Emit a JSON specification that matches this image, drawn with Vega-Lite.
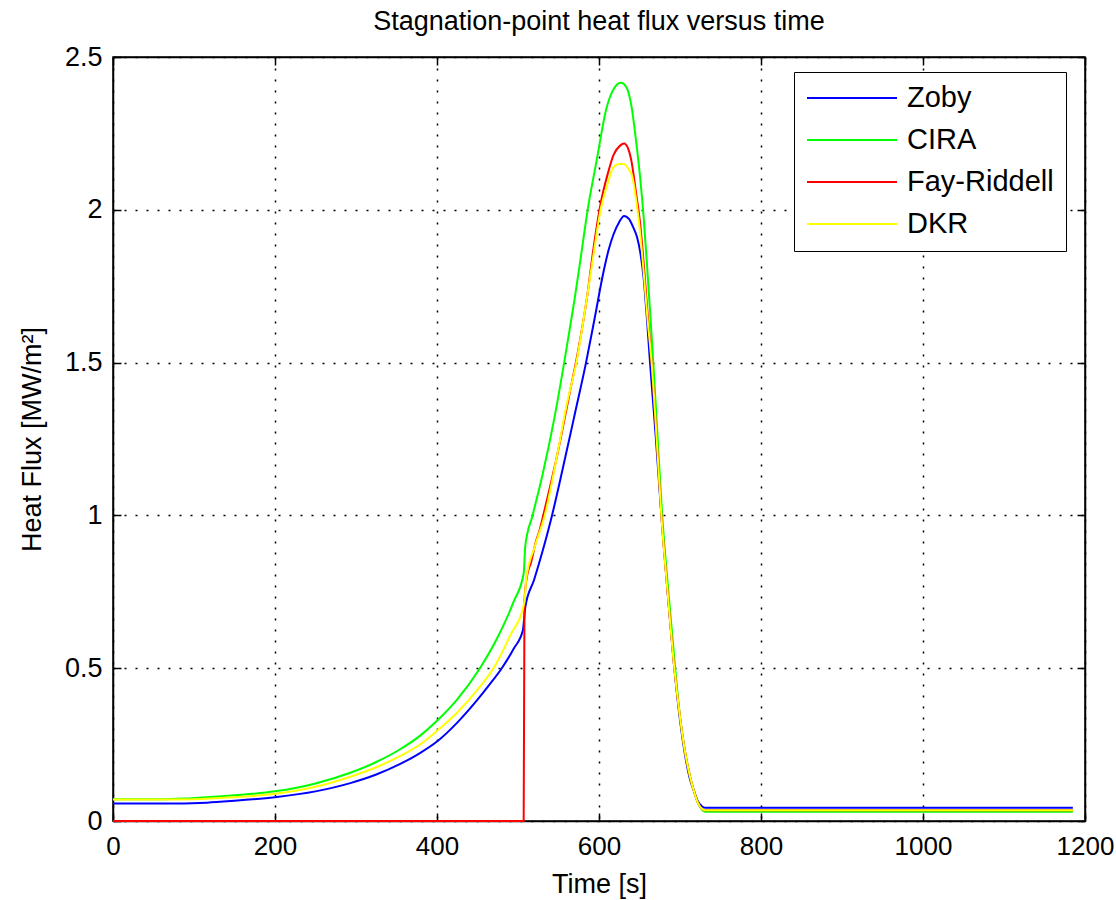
{
  "$schema": "https://vega.github.io/schema/vega-lite/v6.json",
  "autosize": {"type": "none"},
  "padding": {"left": 113, "top": 57, "right": 31, "bottom": 79},
  "width": 972,
  "height": 764,
  "background": "white",
  "title": {"text": "Stagnation-point heat flux versus time", "font": "Liberation Sans", "fontSize": 27, "fontWeight": "normal", "color": "#000", "anchor": "middle", "offset": 7},
  "data": {"values": [
    {"t":0,"q":0.057,"s":"Zoby"},{"t":60,"q":0.057,"s":"Zoby"},{"t":116,"q":0.060,"s":"Zoby"},{"t":150,"q":0.066,"s":"Zoby"},{"t":200,"q":0.078,"s":"Zoby"},{"t":250,"q":0.097,"s":"Zoby"},{"t":293,"q":0.124,"s":"Zoby"},{"t":325,"q":0.152,"s":"Zoby"},{"t":354,"q":0.186,"s":"Zoby"},{"t":380,"q":0.224,"s":"Zoby"},{"t":400,"q":0.26,"s":"Zoby"},{"t":425,"q":0.322,"s":"Zoby"},{"t":450,"q":0.397,"s":"Zoby"},{"t":465,"q":0.447,"s":"Zoby"},{"t":480,"q":0.5,"s":"Zoby"},{"t":495,"q":0.565,"s":"Zoby"},{"t":506,"q":0.624,"s":"Zoby"},{"t":509,"q":0.70,"s":"Zoby"},{"t":520,"q":0.79,"s":"Zoby"},{"t":530,"q":0.88,"s":"Zoby"},{"t":542,"q":1.0,"s":"Zoby"},{"t":555,"q":1.15,"s":"Zoby"},{"t":570,"q":1.33,"s":"Zoby"},{"t":584,"q":1.5,"s":"Zoby"},{"t":595,"q":1.65,"s":"Zoby"},{"t":605,"q":1.79,"s":"Zoby"},{"t":612,"q":1.87,"s":"Zoby"},{"t":618,"q":1.92,"s":"Zoby"},{"t":625,"q":1.96,"s":"Zoby"},{"t":631,"q":1.98,"s":"Zoby"},{"t":637,"q":1.97,"s":"Zoby"},{"t":642,"q":1.944,"s":"Zoby"},{"t":647,"q":1.91,"s":"Zoby"},{"t":651,"q":1.86,"s":"Zoby"},{"t":655,"q":1.78,"s":"Zoby"},{"t":659,"q":1.65,"s":"Zoby"},{"t":663,"q":1.5,"s":"Zoby"},{"t":670,"q":1.26,"s":"Zoby"},{"t":677,"q":1.0,"s":"Zoby"},{"t":685,"q":0.74,"s":"Zoby"},{"t":693,"q":0.5,"s":"Zoby"},{"t":700,"q":0.33,"s":"Zoby"},{"t":706,"q":0.22,"s":"Zoby"},{"t":712,"q":0.14,"s":"Zoby"},{"t":717,"q":0.10,"s":"Zoby"},{"t":722,"q":0.065,"s":"Zoby"},{"t":727,"q":0.048,"s":"Zoby"},{"t":731,"q":0.043,"s":"Zoby"},{"t":1185,"q":0.043,"s":"Zoby"},
    {"t":0,"q":0.071,"s":"CIRA"},{"t":60,"q":0.071,"s":"CIRA"},{"t":93,"q":0.074,"s":"CIRA"},{"t":150,"q":0.084,"s":"CIRA"},{"t":200,"q":0.097,"s":"CIRA"},{"t":250,"q":0.123,"s":"CIRA"},{"t":293,"q":0.158,"s":"CIRA"},{"t":325,"q":0.193,"s":"CIRA"},{"t":354,"q":0.234,"s":"CIRA"},{"t":380,"q":0.281,"s":"CIRA"},{"t":400,"q":0.328,"s":"CIRA"},{"t":425,"q":0.398,"s":"CIRA"},{"t":453,"q":0.5,"s":"CIRA"},{"t":475,"q":0.602,"s":"CIRA"},{"t":495,"q":0.72,"s":"CIRA"},{"t":507,"q":0.81,"s":"CIRA"},{"t":509,"q":0.90,"s":"CIRA"},{"t":518,"q":1.0,"s":"CIRA"},{"t":530,"q":1.13,"s":"CIRA"},{"t":545,"q":1.32,"s":"CIRA"},{"t":557,"q":1.5,"s":"CIRA"},{"t":562,"q":1.58,"s":"CIRA"},{"t":570,"q":1.71,"s":"CIRA"},{"t":577,"q":1.835,"s":"CIRA"},{"t":586,"q":2.0,"s":"CIRA"},{"t":597,"q":2.16,"s":"CIRA"},{"t":609,"q":2.33,"s":"CIRA"},{"t":617,"q":2.39,"s":"CIRA"},{"t":627,"q":2.416,"s":"CIRA"},{"t":634,"q":2.40,"s":"CIRA"},{"t":640,"q":2.34,"s":"CIRA"},{"t":646,"q":2.22,"s":"CIRA"},{"t":651,"q":2.10,"s":"CIRA"},{"t":655,"q":1.98,"s":"CIRA"},{"t":659,"q":1.83,"s":"CIRA"},{"t":663,"q":1.67,"s":"CIRA"},{"t":667,"q":1.5,"s":"CIRA"},{"t":672,"q":1.27,"s":"CIRA"},{"t":678,"q":1.0,"s":"CIRA"},{"t":686,"q":0.74,"s":"CIRA"},{"t":694,"q":0.5,"s":"CIRA"},{"t":700,"q":0.34,"s":"CIRA"},{"t":706,"q":0.23,"s":"CIRA"},{"t":712,"q":0.15,"s":"CIRA"},{"t":717,"q":0.10,"s":"CIRA"},{"t":722,"q":0.06,"s":"CIRA"},{"t":727,"q":0.037,"s":"CIRA"},{"t":731,"q":0.03,"s":"CIRA"},{"t":1185,"q":0.03,"s":"CIRA"},
    {"t":0,"q":0,"s":"Fay-Riddell"},{"t":507,"q":0,"s":"Fay-Riddell"},{"t":508,"q":0.72,"s":"Fay-Riddell"},{"t":511,"q":0.80,"s":"Fay-Riddell"},{"t":516,"q":0.845,"s":"Fay-Riddell"},{"t":522,"q":0.913,"s":"Fay-Riddell"},{"t":527,"q":0.955,"s":"Fay-Riddell"},{"t":533,"q":1.02,"s":"Fay-Riddell"},{"t":541,"q":1.11,"s":"Fay-Riddell"},{"t":547,"q":1.18,"s":"Fay-Riddell"},{"t":563,"q":1.39,"s":"Fay-Riddell"},{"t":575,"q":1.55,"s":"Fay-Riddell"},{"t":585,"q":1.71,"s":"Fay-Riddell"},{"t":593,"q":1.87,"s":"Fay-Riddell"},{"t":602,"q":2.02,"s":"Fay-Riddell"},{"t":611,"q":2.12,"s":"Fay-Riddell"},{"t":618,"q":2.18,"s":"Fay-Riddell"},{"t":626,"q":2.21,"s":"Fay-Riddell"},{"t":631,"q":2.217,"s":"Fay-Riddell"},{"t":636,"q":2.2,"s":"Fay-Riddell"},{"t":640,"q":2.16,"s":"Fay-Riddell"},{"t":646,"q":2.05,"s":"Fay-Riddell"},{"t":651,"q":1.95,"s":"Fay-Riddell"},{"t":655,"q":1.83,"s":"Fay-Riddell"},{"t":660,"q":1.66,"s":"Fay-Riddell"},{"t":665,"q":1.5,"s":"Fay-Riddell"},{"t":671,"q":1.26,"s":"Fay-Riddell"},{"t":677,"q":1.0,"s":"Fay-Riddell"},{"t":685,"q":0.74,"s":"Fay-Riddell"},{"t":693,"q":0.5,"s":"Fay-Riddell"},{"t":700,"q":0.34,"s":"Fay-Riddell"},{"t":706,"q":0.23,"s":"Fay-Riddell"},{"t":712,"q":0.15,"s":"Fay-Riddell"},{"t":717,"q":0.10,"s":"Fay-Riddell"},{"t":722,"q":0.06,"s":"Fay-Riddell"},{"t":727,"q":0.04,"s":"Fay-Riddell"},{"t":731,"q":0.035,"s":"Fay-Riddell"},{"t":1185,"q":0.035,"s":"Fay-Riddell"},
    {"t":0,"q":0.07,"s":"DKR"},{"t":60,"q":0.07,"s":"DKR"},{"t":100,"q":0.071,"s":"DKR"},{"t":150,"q":0.078,"s":"DKR"},{"t":200,"q":0.089,"s":"DKR"},{"t":250,"q":0.112,"s":"DKR"},{"t":293,"q":0.145,"s":"DKR"},{"t":325,"q":0.176,"s":"DKR"},{"t":354,"q":0.212,"s":"DKR"},{"t":380,"q":0.252,"s":"DKR"},{"t":400,"q":0.295,"s":"DKR"},{"t":425,"q":0.355,"s":"DKR"},{"t":450,"q":0.43,"s":"DKR"},{"t":472,"q":0.51,"s":"DKR"},{"t":490,"q":0.605,"s":"DKR"},{"t":508,"q":0.717,"s":"DKR"},{"t":510,"q":0.79,"s":"DKR"},{"t":521,"q":0.90,"s":"DKR"},{"t":533,"q":1.0,"s":"DKR"},{"t":550,"q":1.22,"s":"DKR"},{"t":560,"q":1.36,"s":"DKR"},{"t":572,"q":1.5,"s":"DKR"},{"t":585,"q":1.71,"s":"DKR"},{"t":593,"q":1.85,"s":"DKR"},{"t":602,"q":2.0,"s":"DKR"},{"t":610,"q":2.08,"s":"DKR"},{"t":618,"q":2.14,"s":"DKR"},{"t":625,"q":2.15,"s":"DKR"},{"t":631,"q":2.15,"s":"DKR"},{"t":637,"q":2.13,"s":"DKR"},{"t":641,"q":2.11,"s":"DKR"},{"t":646,"q":2.03,"s":"DKR"},{"t":651,"q":1.92,"s":"DKR"},{"t":655,"q":1.8,"s":"DKR"},{"t":660,"q":1.64,"s":"DKR"},{"t":665,"q":1.5,"s":"DKR"},{"t":671,"q":1.26,"s":"DKR"},{"t":677,"q":1.0,"s":"DKR"},{"t":685,"q":0.74,"s":"DKR"},{"t":693,"q":0.5,"s":"DKR"},{"t":700,"q":0.34,"s":"DKR"},{"t":706,"q":0.23,"s":"DKR"},{"t":712,"q":0.15,"s":"DKR"},{"t":717,"q":0.10,"s":"DKR"},{"t":722,"q":0.06,"s":"DKR"},{"t":727,"q":0.04,"s":"DKR"},{"t":731,"q":0.035,"s":"DKR"},{"t":1185,"q":0.035,"s":"DKR"}
  ]},
  "layer": [
    {
      "transform": [{"filter": "datum.s === 'Zoby'"}],
      "mark": {"type": "line", "strokeWidth": 2, "interpolate": "monotone"},
      "encoding": {
        "x": {"field": "t", "type": "quantitative", "scale": {"domain": [0, 1200], "nice": false, "zero": false},
              "axis": {"orient": "bottom", "title": "Time [s]", "values": [0,200,400,600,800,1000,1200], "format": "d", "grid": true, "tickSize": -8, "labelPadding": 20, "titlePadding": 12, "labelFontSize": 26}},
        "y": {"field": "q", "type": "quantitative", "scale": {"domain": [0, 2.5], "nice": false},
              "axis": {"orient": "left", "title": "Heat Flux [MW/m²]", "values": [0,0.5,1,1.5,2,2.5], "format": "~g", "grid": true, "tickSize": -8, "labelPadding": 19, "titlePadding": 18}},
        "color": {"field": "s", "type": "nominal", "scale": {"domain": ["Zoby","CIRA","Fay-Riddell","DKR"], "range": ["#0000FF","#00FF00","#FF0000","#FFFF00"]},
                  "legend": {"title": null, "orient": "none", "legendX": 681, "legendY": 15}}
      }
    },
    {
      "transform": [{"filter": "datum.s === 'CIRA'"}],
      "mark": {"type": "line", "strokeWidth": 2, "interpolate": "monotone"},
      "encoding": {
        "x": {"field": "t", "type": "quantitative", "axis": {"orient": "top", "title": null, "labels": false, "grid": false, "values": [0,200,400,600,800,1000,1200], "tickSize": -8}},
        "y": {"field": "q", "type": "quantitative", "axis": {"orient": "right", "title": null, "labels": false, "grid": false, "values": [0,0.5,1,1.5,2,2.5], "tickSize": -8}},
        "color": {"field": "s", "type": "nominal", "legend": {"title": null, "orient": "none", "legendX": 681, "legendY": 15}}
      }
    },
    {
      "transform": [{"filter": "datum.s === 'Fay-Riddell'"}],
      "mark": {"type": "line", "strokeWidth": 2, "interpolate": "monotone"},
      "encoding": {
        "x": {"field": "t", "type": "quantitative", "axis": null},
        "y": {"field": "q", "type": "quantitative", "axis": null},
        "color": {"field": "s", "type": "nominal", "legend": {"title": null, "orient": "none", "legendX": 681, "legendY": 15}}
      }
    },
    {
      "transform": [{"filter": "datum.s === 'DKR'"}],
      "mark": {"type": "line", "strokeWidth": 2, "interpolate": "monotone"},
      "encoding": {
        "x": {"field": "t", "type": "quantitative", "axis": null},
        "y": {"field": "q", "type": "quantitative", "axis": null},
        "color": {"field": "s", "type": "nominal", "legend": {"title": null, "orient": "none", "legendX": 681, "legendY": 15}}
      }
    }
  ],
  "config": {
    "view": {"stroke": "#000", "strokeWidth": 1.5},
    "axis": {
      "domainColor": "#000", "domainWidth": 1.5, "tickColor": "#000", "tickWidth": 1.5,
      "gridColor": "#000", "gridOpacity": 1, "gridWidth": 1.5, "gridDash": [2, 9],
      "labelFont": "Liberation Sans", "labelFontSize": 27, "labelColor": "#000",
      "titleFont": "Liberation Sans", "titleFontSize": 27, "titleFontWeight": "normal", "titleColor": "#000",
      "labelFlush": false, "labelOverlap": false
    },
    "legend": {
      "symbolType": "stroke", "symbolSize": 8100, "symbolStrokeWidth": 2,
      "labelFont": "Liberation Sans", "labelFontSize": 29, "labelColor": "#000", "labelOffset": 9,
      "strokeColor": "#000", "fillColor": "#fff", "padding": 12, "rowPadding": 13, "clipHeight": 28
    }
  }
}
